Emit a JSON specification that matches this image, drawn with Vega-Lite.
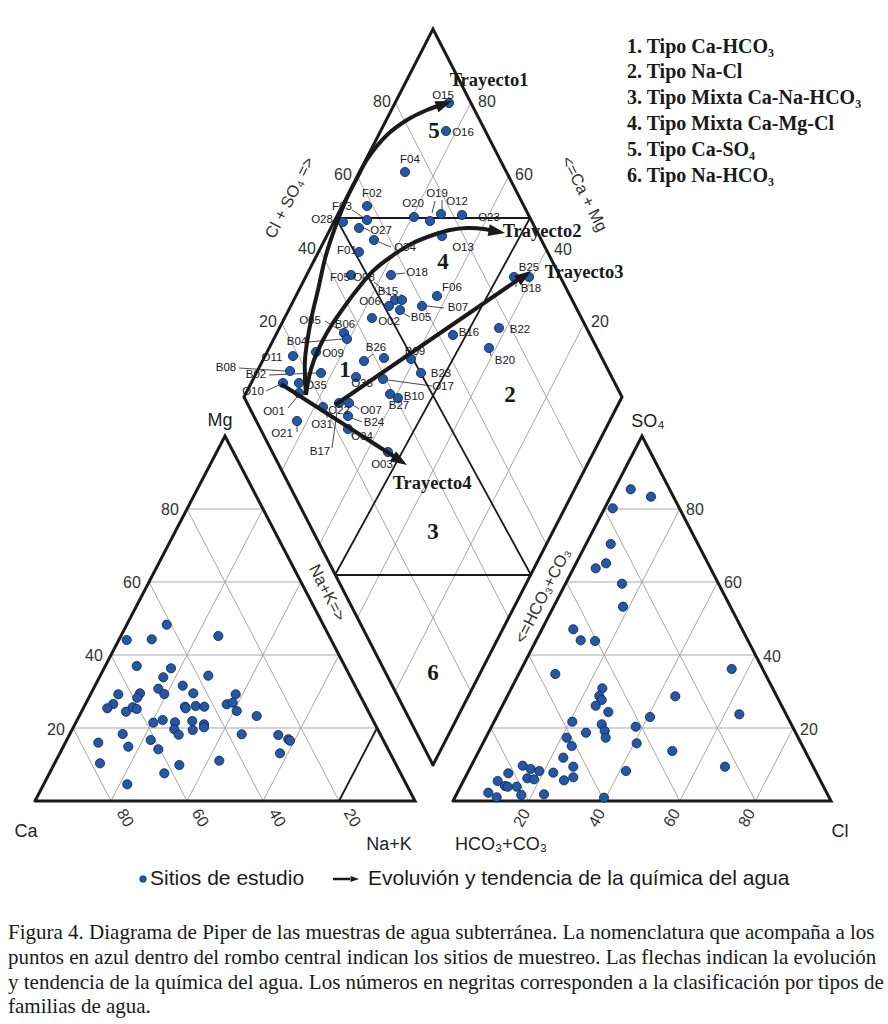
{
  "$schema": "https://vega.github.io/schema/vega-lite/v6.json",
  "width": 888,
  "height": 1024,
  "autosize": {"type": "fit", "contains": "padding"},
  "padding": 0,
  "background": "white",
  "config": {"view": {"stroke": null}},
  "datasets": {
    "grid": [
      {"x": 73, "y": 728, "x2": 377, "y2": 728}, {"x": 111, "y": 655, "x2": 339, "y2": 655}, {"x": 149, "y": 582, "x2": 301, "y2": 582}, {"x": 187, "y": 509, "x2": 263, "y2": 509},
      {"x": 111, "y": 801, "x2": 73, "y2": 728}, {"x": 187, "y": 801, "x2": 111, "y2": 655}, {"x": 263, "y": 801, "x2": 149, "y2": 582}, {"x": 339, "y": 801, "x2": 187, "y2": 509},
      {"x": 111, "y": 801, "x2": 263, "y2": 509}, {"x": 187, "y": 801, "x2": 301, "y2": 582}, {"x": 263, "y": 801, "x2": 339, "y2": 655}, {"x": 339, "y": 801, "x2": 377, "y2": 728},
      {"x": 490.8, "y": 728, "x2": 793.2, "y2": 728}, {"x": 528.6, "y": 655, "x2": 755.4, "y2": 655}, {"x": 566.4, "y": 582, "x2": 717.6, "y2": 582}, {"x": 604.2, "y": 509, "x2": 679.8, "y2": 509},
      {"x": 528.6, "y": 801, "x2": 490.8, "y2": 728}, {"x": 604.2, "y": 801, "x2": 528.6, "y2": 655}, {"x": 679.8, "y": 801, "x2": 566.4, "y2": 582}, {"x": 755.4, "y": 801, "x2": 604.2, "y2": 509},
      {"x": 528.6, "y": 801, "x2": 679.8, "y2": 509}, {"x": 604.2, "y": 801, "x2": 717.6, "y2": 582}, {"x": 679.8, "y": 801, "x2": 755.4, "y2": 655}, {"x": 755.4, "y": 801, "x2": 793.2, "y2": 728},
      {"x": 395.2, "y": 691.4, "x2": 584.2, "y2": 323.4}, {"x": 357.4, "y": 617.8, "x2": 546.4, "y2": 249.8}, {"x": 319.6, "y": 544.2, "x2": 508.6, "y2": 176.2}, {"x": 281.8, "y": 470.6, "x2": 470.8, "y2": 102.6},
      {"x": 470.8, "y": 691.4, "x2": 281.8, "y2": 323.4}, {"x": 508.6, "y": 617.8, "x2": 319.6, "y2": 249.8}, {"x": 546.4, "y": 544.2, "x2": 357.4, "y2": 176.2}, {"x": 584.2, "y": 470.6, "x2": 395.2, "y2": 102.6}
    ],
    "inner": [
      {"x": 336, "y": 218, "x2": 530, "y2": 218},
      {"x": 335, "y": 575, "x2": 531, "y2": 575},
      {"x": 336, "y": 218, "x2": 531, "y2": 575},
      {"x": 530, "y": 218, "x2": 335, "y2": 575},
      {"x": 339, "y": 801, "x2": 377, "y2": 728}
    ],
    "outline": [
      {"id": "L", "o": 0, "x": 35, "y": 801}, {"id": "L", "o": 1, "x": 415, "y": 801}, {"id": "L", "o": 2, "x": 225, "y": 436}, {"id": "L", "o": 3, "x": 35, "y": 801},
      {"id": "R", "o": 0, "x": 453, "y": 801}, {"id": "R", "o": 1, "x": 831, "y": 801}, {"id": "R", "o": 2, "x": 642, "y": 436}, {"id": "R", "o": 3, "x": 453, "y": 801},
      {"id": "D", "o": 0, "x": 433, "y": 765}, {"id": "D", "o": 1, "x": 244, "y": 397}, {"id": "D", "o": 2, "x": 433, "y": 29}, {"id": "D", "o": 3, "x": 622, "y": 397}, {"id": "D", "o": 4, "x": 433, "y": 765}
    ],
    "pts": [
      {"x": 449, "y": 103}, {"x": 446, "y": 131}, {"x": 405, "y": 172}, {"x": 367, "y": 206}, {"x": 367, "y": 220}, {"x": 343, "y": 222}, {"x": 414, "y": 217}, {"x": 430, "y": 221}, {"x": 441, "y": 214}, {"x": 462, "y": 215},
      {"x": 359, "y": 228}, {"x": 374, "y": 240}, {"x": 359, "y": 252}, {"x": 442, "y": 236}, {"x": 351, "y": 275}, {"x": 391, "y": 275}, {"x": 395, "y": 300}, {"x": 402, "y": 300}, {"x": 389, "y": 306}, {"x": 400, "y": 310},
      {"x": 372, "y": 318}, {"x": 437, "y": 296}, {"x": 422, "y": 306}, {"x": 344, "y": 333}, {"x": 347, "y": 339}, {"x": 293, "y": 356}, {"x": 316, "y": 352}, {"x": 364, "y": 361}, {"x": 384, "y": 358}, {"x": 411, "y": 359},
      {"x": 421, "y": 373}, {"x": 383, "y": 379}, {"x": 390, "y": 394}, {"x": 398, "y": 398}, {"x": 290, "y": 371}, {"x": 321, "y": 373}, {"x": 356, "y": 377}, {"x": 283, "y": 383}, {"x": 299, "y": 383}, {"x": 299, "y": 393},
      {"x": 297, "y": 421}, {"x": 323, "y": 407}, {"x": 339, "y": 403}, {"x": 349, "y": 403}, {"x": 348, "y": 416}, {"x": 348, "y": 429}, {"x": 388, "y": 452}, {"x": 453, "y": 335}, {"x": 499, "y": 328}, {"x": 489, "y": 348},
      {"x": 514, "y": 277}, {"x": 529, "y": 277},
      {"x": 166.7, "y": 624.7}, {"x": 126.7, "y": 640}, {"x": 151.7, "y": 639.3}, {"x": 218.3, "y": 636}, {"x": 136.7, "y": 666}, {"x": 171, "y": 668.3}, {"x": 163.3, "y": 677.3}, {"x": 208.3, "y": 675.7}, {"x": 182.7, "y": 685.7}, {"x": 118.3, "y": 694.3},
      {"x": 140, "y": 693.3}, {"x": 137.3, "y": 697.7}, {"x": 158.3, "y": 688.7}, {"x": 164.3, "y": 694}, {"x": 193.3, "y": 693.3}, {"x": 235.7, "y": 694.3}, {"x": 113.3, "y": 704}, {"x": 107.3, "y": 708.3}, {"x": 126, "y": 711.7}, {"x": 132.7, "y": 707.3},
      {"x": 136.7, "y": 709}, {"x": 185, "y": 706.7}, {"x": 185.7, "y": 708.3}, {"x": 195.7, "y": 706}, {"x": 204.3, "y": 706.7}, {"x": 226.7, "y": 704.3}, {"x": 232.7, "y": 702.7}, {"x": 236.7, "y": 711}, {"x": 256.7, "y": 716}, {"x": 153.3, "y": 722.7},
      {"x": 162.7, "y": 720}, {"x": 175, "y": 722.3}, {"x": 192.3, "y": 721}, {"x": 204, "y": 724.3}, {"x": 204, "y": 727.3}, {"x": 174.3, "y": 729.3}, {"x": 178.7, "y": 734.7}, {"x": 192.7, "y": 730}, {"x": 122.7, "y": 734}, {"x": 98.3, "y": 742.7},
      {"x": 128.3, "y": 746.7}, {"x": 150.7, "y": 740}, {"x": 158.3, "y": 749.3}, {"x": 241.7, "y": 734.3}, {"x": 278.3, "y": 735}, {"x": 288.3, "y": 739.3}, {"x": 290, "y": 740.7}, {"x": 280, "y": 753.3}, {"x": 100, "y": 763.3}, {"x": 164.3, "y": 773.3},
      {"x": 179.3, "y": 765}, {"x": 219.3, "y": 760.7}, {"x": 127.3, "y": 784.3},
      {"x": 630.7, "y": 489.3}, {"x": 651, "y": 496.7}, {"x": 612.7, "y": 508.3}, {"x": 610.7, "y": 544}, {"x": 606, "y": 563.3}, {"x": 595.7, "y": 568.3}, {"x": 622, "y": 583.7}, {"x": 623, "y": 606.7}, {"x": 573.3, "y": 629.3}, {"x": 580.7, "y": 640.3},
      {"x": 595, "y": 641}, {"x": 555.3, "y": 674}, {"x": 602.3, "y": 688.3}, {"x": 599.3, "y": 696}, {"x": 601.7, "y": 700}, {"x": 595.7, "y": 705.7}, {"x": 608.3, "y": 712}, {"x": 675.3, "y": 696.3}, {"x": 731.7, "y": 669}, {"x": 739.3, "y": 714.3},
      {"x": 650, "y": 717}, {"x": 572.3, "y": 721.7}, {"x": 601.7, "y": 724.3}, {"x": 604.7, "y": 731}, {"x": 605.7, "y": 737.7}, {"x": 586, "y": 732.7}, {"x": 635.7, "y": 726.7}, {"x": 566.7, "y": 737.7}, {"x": 571.7, "y": 746}, {"x": 636.7, "y": 743.3},
      {"x": 672.3, "y": 751}, {"x": 725, "y": 766.7}, {"x": 563.3, "y": 757.7}, {"x": 573.3, "y": 766.7}, {"x": 553.3, "y": 772.7}, {"x": 626, "y": 771}, {"x": 573.3, "y": 777.3}, {"x": 564, "y": 780.3}, {"x": 522.7, "y": 765.7}, {"x": 530.7, "y": 769},
      {"x": 539.3, "y": 771}, {"x": 508.3, "y": 773.3}, {"x": 527.3, "y": 778.3}, {"x": 534, "y": 779.3}, {"x": 497.7, "y": 781}, {"x": 505, "y": 786}, {"x": 507.7, "y": 786.7}, {"x": 516.7, "y": 786.7}, {"x": 521.3, "y": 795}, {"x": 544, "y": 794.3},
      {"x": 488.3, "y": 792.7}, {"x": 496.7, "y": 797.3}, {"x": 604, "y": 797.7}
    ],
    "leaders": [
      {"x": 352, "y": 210, "x2": 364, "y2": 218}, {"x": 435, "y": 201, "x2": 432, "y2": 213}, {"x": 442, "y": 200, "x2": 442, "y2": 210}, {"x": 364, "y": 228, "x2": 370, "y2": 231},
      {"x": 379, "y": 242, "x2": 391, "y2": 247}, {"x": 374, "y": 282, "x2": 392, "y2": 297}, {"x": 401, "y": 294, "x2": 402, "y2": 297}, {"x": 396, "y": 274, "x2": 405, "y2": 273},
      {"x": 403, "y": 313, "x2": 410, "y2": 317}, {"x": 427, "y": 306, "x2": 444, "y2": 308}, {"x": 325, "y": 321, "x2": 340, "y2": 330}, {"x": 308, "y": 342, "x2": 343, "y2": 339},
      {"x": 373, "y": 354, "x2": 367, "y2": 359}, {"x": 388, "y": 380, "x2": 432, "y2": 386}, {"x": 239, "y": 368, "x2": 285, "y2": 371}, {"x": 269, "y": 375, "x2": 316, "y2": 373},
      {"x": 266, "y": 391, "x2": 279, "y2": 385}, {"x": 288, "y": 408, "x2": 297, "y2": 397}, {"x": 297, "y": 425, "x2": 297, "y2": 432}, {"x": 327, "y": 411, "x2": 327, "y2": 418},
      {"x": 353, "y": 405, "x2": 359, "y2": 409}, {"x": 352, "y": 418, "x2": 362, "y2": 422}, {"x": 352, "y": 432, "x2": 352, "y2": 436}, {"x": 332, "y": 448, "x2": 337, "y2": 412},
      {"x": 490, "y": 352, "x2": 491, "y2": 356}, {"x": 516, "y": 281, "x2": 516, "y2": 287}
    ],
    "ptlabels": [
      {"t": "O15", "x": 443, "y": 96}, {"t": "O16", "x": 463, "y": 133}, {"t": "F04", "x": 410, "y": 160}, {"t": "F02", "x": 372, "y": 194}, {"t": "F03", "x": 342, "y": 207},
      {"t": "O28", "x": 322, "y": 220}, {"t": "O20", "x": 413, "y": 204}, {"t": "O19", "x": 437, "y": 194}, {"t": "O12", "x": 457, "y": 202}, {"t": "O23", "x": 489, "y": 218},
      {"t": "O27", "x": 381, "y": 231}, {"t": "O34", "x": 405, "y": 248}, {"t": "F01", "x": 347, "y": 251}, {"t": "O13", "x": 463, "y": 248}, {"t": "F05", "x": 340, "y": 278},
      {"t": "O08", "x": 364, "y": 278}, {"t": "O18", "x": 417, "y": 273}, {"t": "B15", "x": 388, "y": 292}, {"t": "O06", "x": 370, "y": 302}, {"t": "B05", "x": 421, "y": 318},
      {"t": "O02", "x": 389, "y": 322}, {"t": "F06", "x": 452, "y": 288}, {"t": "B07", "x": 458, "y": 308}, {"t": "O05", "x": 310, "y": 321}, {"t": "B06", "x": 345, "y": 325},
      {"t": "B04", "x": 297, "y": 342}, {"t": "O11", "x": 272, "y": 358}, {"t": "O09", "x": 333, "y": 354}, {"t": "B26", "x": 376, "y": 348}, {"t": "B09", "x": 415, "y": 352},
      {"t": "B23", "x": 441, "y": 374}, {"t": "O17", "x": 443, "y": 387}, {"t": "B10", "x": 414, "y": 397}, {"t": "B27", "x": 399, "y": 406}, {"t": "B08", "x": 226, "y": 368},
      {"t": "B02", "x": 256, "y": 375}, {"t": "O33", "x": 362, "y": 384}, {"t": "O10", "x": 253, "y": 392}, {"t": "O35", "x": 316, "y": 386}, {"t": "O01", "x": 274, "y": 412},
      {"t": "O21", "x": 282, "y": 434}, {"t": "O31", "x": 322, "y": 425}, {"t": "O22", "x": 339, "y": 411}, {"t": "O07", "x": 371, "y": 411}, {"t": "B24", "x": 374, "y": 423},
      {"t": "O04", "x": 362, "y": 437}, {"t": "B17", "x": 320, "y": 452}, {"t": "O03", "x": 382, "y": 465}, {"t": "B16", "x": 469, "y": 333}, {"t": "B22", "x": 520, "y": 330},
      {"t": "B20", "x": 505, "y": 361}, {"t": "B25", "x": 529, "y": 268}, {"t": "B18", "x": 531, "y": 289}
    ],
    "paths": [
      {"id": "T1", "o": 0, "x": 306, "y": 395}, {"id": "T1", "o": 1, "x": 305, "y": 360}, {"id": "T1", "o": 2, "x": 311, "y": 320}, {"id": "T1", "o": 3, "x": 318, "y": 290},
      {"id": "T1", "o": 4, "x": 326, "y": 255}, {"id": "T1", "o": 5, "x": 336, "y": 225}, {"id": "T1", "o": 6, "x": 346, "y": 200}, {"id": "T1", "o": 7, "x": 356, "y": 180},
      {"id": "T1", "o": 8, "x": 368, "y": 158}, {"id": "T1", "o": 9, "x": 387, "y": 135}, {"id": "T1", "o": 10, "x": 407, "y": 120}, {"id": "T1", "o": 11, "x": 427, "y": 110},
      {"id": "T1", "o": 12, "x": 444, "y": 104},
      {"id": "T2", "o": 0, "x": 306, "y": 395}, {"id": "T2", "o": 1, "x": 309, "y": 377}, {"id": "T2", "o": 2, "x": 314, "y": 360}, {"id": "T2", "o": 3, "x": 322, "y": 342},
      {"id": "T2", "o": 4, "x": 331, "y": 326}, {"id": "T2", "o": 5, "x": 342, "y": 310}, {"id": "T2", "o": 6, "x": 356, "y": 291}, {"id": "T2", "o": 7, "x": 373, "y": 271},
      {"id": "T2", "o": 8, "x": 392, "y": 256}, {"id": "T2", "o": 9, "x": 413, "y": 243}, {"id": "T2", "o": 10, "x": 433, "y": 235}, {"id": "T2", "o": 11, "x": 450, "y": 230},
      {"id": "T2", "o": 12, "x": 467, "y": 228}, {"id": "T2", "o": 13, "x": 484, "y": 229}, {"id": "T2", "o": 14, "x": 494, "y": 231},
      {"id": "T3", "o": 0, "x": 335, "y": 405}, {"id": "T3", "o": 1, "x": 522, "y": 277},
      {"id": "T4", "o": 0, "x": 281, "y": 384}, {"id": "T4", "o": 1, "x": 398, "y": 459}
    ],
    "heads": [
      {"x": 452, "y": 101, "heading": 70},
      {"x": 505, "y": 233, "heading": 100},
      {"x": 531, "y": 271, "heading": 55},
      {"x": 407, "y": 465, "heading": 122}
    ],
    "texts": [
      {"k": "tick", "t": "20", "x": 56, "y": 730}, {"k": "tick", "t": "40", "x": 94, "y": 656}, {"k": "tick", "t": "60", "x": 132, "y": 583}, {"k": "tick", "t": "80", "x": 170, "y": 510},
      {"k": "tick", "t": "80", "x": 695, "y": 510}, {"k": "tick", "t": "60", "x": 733, "y": 583}, {"k": "tick", "t": "40", "x": 772, "y": 657}, {"k": "tick", "t": "20", "x": 809, "y": 730},
      {"k": "tick", "t": "80", "x": 382, "y": 102}, {"k": "tick", "t": "60", "x": 343, "y": 175}, {"k": "tick", "t": "40", "x": 307, "y": 249}, {"k": "tick", "t": "20", "x": 268, "y": 322},
      {"k": "tick", "t": "80", "x": 487, "y": 102}, {"k": "tick", "t": "60", "x": 524, "y": 175}, {"k": "tick", "t": "40", "x": 563, "y": 250}, {"k": "tick", "t": "20", "x": 600, "y": 322},
      {"k": "baseL", "t": "80", "x": 125, "y": 818}, {"k": "baseL", "t": "60", "x": 200, "y": 818}, {"k": "baseL", "t": "40", "x": 277, "y": 818}, {"k": "baseL", "t": "20", "x": 352, "y": 818},
      {"k": "baseR", "t": "20", "x": 522, "y": 818}, {"k": "baseR", "t": "40", "x": 597, "y": 818}, {"k": "baseR", "t": "60", "x": 672, "y": 818}, {"k": "baseR", "t": "80", "x": 747, "y": 818},
      {"k": "name", "t": "Mg", "x": 220, "y": 421}, {"k": "name", "t": "Ca", "x": 26, "y": 832}, {"k": "name", "t": "Na+K", "x": 389, "y": 845},
      {"k": "name", "t": "SO₄", "x": 648, "y": 422}, {"k": "name", "t": "HCO₃+CO₃", "x": 501, "y": 845}, {"k": "name", "t": "Cl", "x": 840, "y": 832},
      {"k": "edgeUp", "t": "Cl + SO₄ =>", "x": 290, "y": 198}, {"k": "edgeUp", "t": "<=HCO₃+CO₃", "x": 543, "y": 596},
      {"k": "edgeDown", "t": "<=Ca + Mg", "x": 584, "y": 194}, {"k": "edgeDown", "t": "Na+K=>", "x": 327, "y": 593},
      {"k": "region", "t": "5", "x": 434, "y": 131}, {"k": "region", "t": "4", "x": 443, "y": 262}, {"k": "region", "t": "1", "x": 345, "y": 370},
      {"k": "region", "t": "2", "x": 510, "y": 395}, {"k": "region", "t": "3", "x": 433, "y": 532}, {"k": "region", "t": "6", "x": 433, "y": 673},
      {"k": "tray", "t": "Trayecto1", "x": 489, "y": 80}, {"k": "tray", "t": "Trayecto2", "x": 542, "y": 231}, {"k": "tray", "t": "Trayecto3", "x": 584, "y": 272}, {"k": "tray", "t": "Trayecto4", "x": 432, "y": 483},
      {"k": "key", "t": "1. Tipo Ca-HCO₃", "x": 627, "y": 47}, {"k": "key", "t": "2. Tipo Na-Cl", "x": 627, "y": 72}, {"k": "key", "t": "3. Tipo Mixta Ca-Na-HCO₃", "x": 627, "y": 98},
      {"k": "key", "t": "4. Tipo Mixta Ca-Mg-Cl", "x": 627, "y": 124}, {"k": "key", "t": "5. Tipo Ca-SO₄", "x": 627, "y": 150}, {"k": "key", "t": "6. Tipo Na-HCO₃", "x": 627, "y": 176},
      {"k": "legend", "t": "Sitios de estudio", "x": 150, "y": 879}, {"k": "legend", "t": "Evoluvión y tendencia de la química del agua", "x": 368, "y": 879},
      {"k": "caption", "t": "Figura 4. Diagrama de Piper de las muestras de agua subterránea. La nomenclatura que acompaña a los", "x": 8, "y": 933},
      {"k": "caption", "t": "puntos en azul dentro del rombo central indican los sitios de muestreo. Las flechas indican la evolución", "x": 8, "y": 958},
      {"k": "caption", "t": "y tendencia de la química del agua. Los números en negritas corresponden a la clasificación por tipos de", "x": 8, "y": 983},
      {"k": "caption", "t": "familias de agua.", "x": 8, "y": 1007}
    ],
    "legendsym": [
      {"x": 143, "y": 879}
    ],
    "legendline": [
      {"x": 333, "y": 879, "x2": 350, "y2": 879}
    ],
    "legendhead": [
      {"x": 359, "y": 879, "heading": 90}
    ]
  },
  "encoding": {
    "x": {"field": "x", "type": "quantitative", "scale": {"domain": [0, 888], "nice": false, "zero": false}, "axis": null},
    "y": {"field": "y", "type": "quantitative", "scale": {"domain": [0, 1024], "nice": false, "zero": false, "reverse": true}, "axis": null}
  },
  "layer": [
    {"data": {"name": "grid"}, "mark": {"type": "rule", "color": "#a8a8a8", "strokeWidth": 1}, "encoding": {"x2": {"field": "x2"}, "y2": {"field": "y2"}}},
    {"data": {"name": "inner"}, "mark": {"type": "rule", "color": "#1a1a1a", "strokeWidth": 1.8, "strokeCap": "round"}, "encoding": {"x2": {"field": "x2"}, "y2": {"field": "y2"}}},
    {"data": {"name": "outline"}, "mark": {"type": "line", "color": "#1a1a1a", "strokeWidth": 3, "strokeJoin": "miter", "strokeCap": "round"}, "encoding": {"detail": {"field": "id"}, "order": {"field": "o", "type": "quantitative"}}},
    {"data": {"name": "leaders"}, "mark": {"type": "rule", "color": "#1a1a1a", "strokeWidth": 0.8}, "encoding": {"x2": {"field": "x2"}, "y2": {"field": "y2"}}},
    {"data": {"name": "pts"}, "mark": {"type": "point", "shape": "circle", "filled": true, "size": 85, "fill": "#2458a6", "stroke": "#0f2249", "strokeWidth": 0.8, "opacity": 1}},
    {"data": {"name": "ptlabels"}, "mark": {"type": "text", "font": "Liberation Sans", "fontSize": 11.5, "color": "#1a1a1a", "align": "center", "baseline": "middle"}, "encoding": {"text": {"field": "t"}}},
    {"data": {"name": "paths"}, "mark": {"type": "line", "color": "#1a1a1a", "strokeWidth": 4, "interpolate": "catmull-rom", "strokeCap": "butt"}, "encoding": {"detail": {"field": "id"}, "order": {"field": "o", "type": "quantitative"}}},
    {"data": {"name": "heads"}, "mark": {"type": "point", "shape": "M0,0L0.6,1.7L-0.6,1.7Z", "filled": true, "size": 380, "color": "#1a1a1a", "opacity": 1}, "encoding": {"angle": {"field": "heading", "type": "quantitative", "scale": null}}},
    {"data": {"name": "texts"}, "transform": [{"filter": "datum.k == 'tick'"}], "mark": {"type": "text", "font": "Liberation Sans", "fontSize": 16, "color": "#333333", "align": "center", "baseline": "middle"}, "encoding": {"text": {"field": "t"}}},
    {"data": {"name": "texts"}, "transform": [{"filter": "datum.k == 'baseL'"}], "mark": {"type": "text", "font": "Liberation Sans", "fontSize": 16, "color": "#333333", "align": "center", "baseline": "middle", "angle": 60}, "encoding": {"text": {"field": "t"}}},
    {"data": {"name": "texts"}, "transform": [{"filter": "datum.k == 'baseR'"}], "mark": {"type": "text", "font": "Liberation Sans", "fontSize": 16, "color": "#333333", "align": "center", "baseline": "middle", "angle": -60}, "encoding": {"text": {"field": "t"}}},
    {"data": {"name": "texts"}, "transform": [{"filter": "datum.k == 'name'"}], "mark": {"type": "text", "font": "Liberation Sans", "fontSize": 18, "color": "#222222", "align": "center", "baseline": "middle"}, "encoding": {"text": {"field": "t"}}},
    {"data": {"name": "texts"}, "transform": [{"filter": "datum.k == 'edgeUp'"}], "mark": {"type": "text", "font": "Liberation Sans", "fontSize": 16.5, "color": "#333333", "align": "center", "baseline": "middle", "angle": -63}, "encoding": {"text": {"field": "t"}}},
    {"data": {"name": "texts"}, "transform": [{"filter": "datum.k == 'edgeDown'"}], "mark": {"type": "text", "font": "Liberation Sans", "fontSize": 16.5, "color": "#333333", "align": "center", "baseline": "middle", "angle": 63}, "encoding": {"text": {"field": "t"}}},
    {"data": {"name": "texts"}, "transform": [{"filter": "datum.k == 'region'"}], "mark": {"type": "text", "font": "Liberation Serif", "fontWeight": "bold", "fontSize": 23, "color": "#1a1a1a", "align": "center", "baseline": "middle"}, "encoding": {"text": {"field": "t"}}},
    {"data": {"name": "texts"}, "transform": [{"filter": "datum.k == 'tray'"}], "mark": {"type": "text", "font": "Liberation Serif", "fontWeight": "bold", "fontSize": 18.5, "color": "#1a1a1a", "align": "center", "baseline": "middle"}, "encoding": {"text": {"field": "t"}}},
    {"data": {"name": "texts"}, "transform": [{"filter": "datum.k == 'key'"}], "mark": {"type": "text", "font": "Liberation Serif", "fontWeight": "bold", "fontSize": 20, "color": "#1a1a1a", "align": "left", "baseline": "middle"}, "encoding": {"text": {"field": "t"}}},
    {"data": {"name": "texts"}, "transform": [{"filter": "datum.k == 'legend'"}], "mark": {"type": "text", "font": "Liberation Sans", "fontSize": 21, "color": "#1a1a1a", "align": "left", "baseline": "middle"}, "encoding": {"text": {"field": "t"}}},
    {"data": {"name": "texts"}, "transform": [{"filter": "datum.k == 'caption'"}], "mark": {"type": "text", "font": "Liberation Serif", "fontSize": 21, "color": "#1a1a1a", "align": "left", "baseline": "middle"}, "encoding": {"text": {"field": "t"}}},
    {"data": {"name": "legendsym"}, "mark": {"type": "point", "shape": "circle", "filled": true, "size": 45, "fill": "#2458a6", "stroke": "#0f2249", "strokeWidth": 0.6, "opacity": 1}},
    {"data": {"name": "legendline"}, "mark": {"type": "rule", "color": "#1a1a1a", "strokeWidth": 2.5}, "encoding": {"x2": {"field": "x2"}, "y2": {"field": "y2"}}},
    {"data": {"name": "legendhead"}, "mark": {"type": "point", "shape": "M0,0L0.6,1.7L-0.6,1.7Z", "filled": true, "size": 100, "color": "#1a1a1a", "opacity": 1}, "encoding": {"angle": {"field": "heading", "type": "quantitative", "scale": null}}}
  ]
}
